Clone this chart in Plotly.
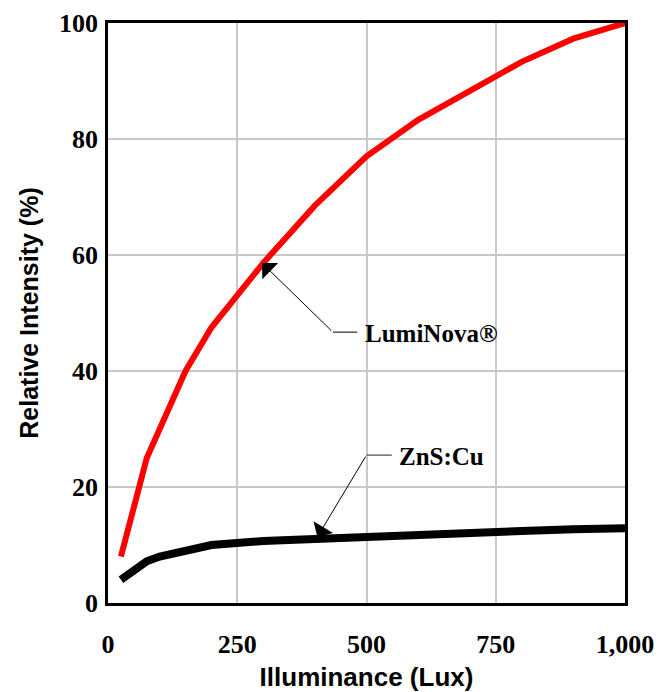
import plotly.graph_objects as go

lux_lumi = [25, 75, 150, 200, 300, 400, 500, 600, 700, 800, 900, 1000]
lumi = [8, 25, 40, 47.5, 58.6, 68.5, 77, 83.3, 88.3, 93.3, 97.3, 100]

lux_zns = [25, 75, 100, 150, 200, 300, 400, 500, 600, 700, 800, 900, 1000]
zns = [4, 7.2, 8, 9, 10, 10.7, 11.1, 11.4, 11.8, 12.1, 12.4, 12.7, 12.9]

x_ticks = [0, 250, 500, 750, 1000]
y_ticks = [0, 20, 40, 60, 80, 100]

serif = "Liberation Serif"
sans = "Liberation Sans"

fig = go.Figure()
fig.add_trace(go.Scatter(x=lux_lumi, y=lumi, mode="lines",
                         line=dict(color="#ff0000", width=6), showlegend=False,
                         name="LumiNova®"))
fig.add_trace(go.Scatter(x=lux_zns, y=zns, mode="lines",
                         line=dict(color="#000000", width=8), showlegend=False,
                         name="ZnS:Cu"))

# arrows
fig.add_annotation(x=298, y=58.6, ax=435, ay=46.7, xref="x", yref="y",
                   axref="x", ayref="y", text="", showarrow=True,
                   arrowhead=1, arrowsize=3.8, arrowwidth=1, arrowcolor="black",
                   standoff=0, startstandoff=0)
fig.add_annotation(x=405, y=11.4, ax=500, ay=25.5, xref="x", yref="y",
                   axref="x", ayref="y", text="", showarrow=True,
                   arrowhead=1, arrowsize=3.8, arrowwidth=1, arrowcolor="black",
                   standoff=0, startstandoff=0)
fig.add_shape(type="line", x0=435, x1=482, y0=46.7, y1=46.7, xref="x", yref="y",
              line=dict(color="black", width=1))
fig.add_shape(type="line", x0=500, x1=549, y0=25.5, y1=25.5, xref="x", yref="y",
              line=dict(color="#444444", width=1.2))

fig.add_annotation(x=493, y=46.4, xref="x", yref="y", text="<b>LumiNova®</b>",
                   showarrow=False, xanchor="left", yanchor="middle",
                   font=dict(family=serif, size=25, color="black"))
fig.add_annotation(x=559, y=25.3, xref="x", yref="y", text="<b>ZnS:Cu</b>",
                   showarrow=False, xanchor="left", yanchor="middle",
                   font=dict(family=serif, size=25, color="black"))

axis_common = dict(showline=True, linecolor="black", linewidth=2.5, mirror=True,
                   showgrid=True, gridcolor="#c8c8c8", gridwidth=1.5,
                   zeroline=False, ticks="", automargin=False,
                   tickfont=dict(family=serif, size=26, color="black"))

fig.update_xaxes(range=[0, 1000], tickvals=x_ticks,
                 ticktext=[f"<b>{v:,}</b>" for v in x_ticks],
                 ticklabelstandoff=16,
                 title=dict(text="<b>Illuminance (Lux)</b>", standoff=11,
                            font=dict(family=sans, size=26, color="black")),
                 **axis_common)
fig.update_yaxes(range=[0, 100], tickvals=y_ticks,
                 ticktext=[f"<b>{v}</b>" for v in y_ticks],
                 ticklabelstandoff=2,
                 title=dict(text="<b>Relative Intensity (%)</b>", standoff=14,
                            font=dict(family=sans, size=25, color="black")),
                 **axis_common)

fig.update_layout(width=672, height=692,
                  margin=dict(l=108, r=47, t=23, b=89),
                  plot_bgcolor="white", paper_bgcolor="white")

fig.write_html("out.html", config={"displayModeBar": False},
               post_script="document.body.style.margin='0';document.body.style.overflow='hidden';")
